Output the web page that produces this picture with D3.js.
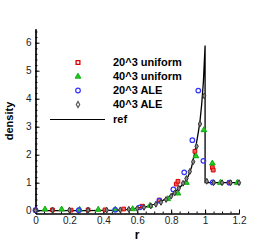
<!DOCTYPE html>
<html>
<head>
<meta charset="utf-8">
<script src="https://cdn.jsdelivr.net/npm/d3@7"></script>
<style>
  body { margin: 0; background: #fff; }
  text { font-family: "Liberation Sans", Arial, sans-serif; }
</style>
</head>
<body>
<svg width="273" height="242"></svg>
<script>
// reference curve (r, density)
var refR = [0, 0.3, 0.5, 0.55, 0.6, 0.65, 0.7, 0.75, 0.8, 0.85, 0.88, 0.9, 0.92, 0.94, 0.96, 0.97, 0.98, 0.99, 1.0, 1.0, 1.1, 1.2];
var refD = [0, 0.005, 0.02, 0.05, 0.09, 0.14, 0.23, 0.36, 0.55, 0.82, 1.03, 1.22, 1.55, 2.1, 2.8, 3.2, 3.8, 4.6, 5.9, 1.0, 1.0, 1.0];

// 20^3 uniform
var uni20R = [0.0, 0.1, 0.21, 0.31, 0.41, 0.52, 0.63, 0.73, 0.83, 0.84, 0.94, 1.043, 1.048, 1.145];
var uni20D = [0.02, 0.03, 0.02, 0.03, 0.03, 0.06, 0.16, 0.38, 0.95, 1.05, 2.12, 1.54, 1.45, 1.0];

// 40^3 uniform
var uni40R = [0.056, 0.154, 0.26, 0.37, 0.47, 0.573, 0.675, 0.78, 0.84, 0.89, 0.946, 0.993, 1.043, 1.09, 1.19];
var uni40D = [0.05, 0.05, 0.04, 0.04, 0.04, 0.06, 0.18, 0.42, 0.62, 1.0, 1.95, 2.88, 1.69, 1.0, 1.0];

// 20^3 ALE
var ale20R = [0.0, 0.255, 0.47, 0.616, 0.73, 0.813, 0.877, 0.925, 0.96, 0.99, 1.045, 1.143];
var ale20D = [0.02, 0.02, 0.03, 0.12, 0.36, 0.76, 1.37, 2.52, 4.29, 1.78, 1.01, 1.0];

// 40^3 ALE
var ale40R = [0.0, 0.1, 0.2, 0.31, 0.42, 0.5, 0.55, 0.6, 0.64, 0.68, 0.71, 0.74, 0.77, 0.8, 0.82, 0.845, 0.87, 0.89, 0.91, 0.93, 0.95, 0.97, 0.995, 1.01, 1.05, 1.1, 1.15, 1.2];
var ale40D = [0.01, 0.02, 0.02, 0.02, 0.02, 0.03, 0.05, 0.08, 0.12, 0.17, 0.23, 0.3, 0.4, 0.52, 0.63, 0.8, 0.98, 1.15, 1.4, 1.75, 2.3, 3.1, 4.1, 1.05, 1.0, 1.0, 1.0, 1.0];

var legendLabels = ["20^3 uniform", "40^3 uniform", "20^3 ALE", "40^3 ALE", "ref"];

var xTicks = [0, 0.2, 0.4, 0.6, 0.8, 1, 1.2];
var yTicks = [0, 1, 2, 3, 4, 5, 6];

var svg = d3.select("svg");

var x = d3.scaleLinear().domain([0, 1.2]).range([35.5, 239]);
var y = d3.scaleLinear().domain([-0.1, 6.5]).range([213.5, 28.7]);

function zip(a, b) { return a.map(function(v, i) { return [v, b[i]]; }); }

// axes
var xMinor = d3.range(0, 1.2001, 0.05);
var yMinor = d3.range(0, 6.5001, 0.2);

svg.append("g")
    .attr("transform", "translate(0," + y.range()[0] + ")")
    .call(d3.axisBottom(x).tickValues(xMinor).tickSize(-2).tickSizeOuter(0).tickFormat(""));
svg.append("g")
    .attr("transform", "translate(0," + y.range()[0] + ")")
    .call(d3.axisBottom(x).tickValues(xTicks).tickSize(-4).tickSizeOuter(0).tickPadding(3)
          .tickFormat(d3.format("")));

svg.append("g")
    .attr("transform", "translate(" + x.range()[0] + ",0)")
    .call(d3.axisLeft(y).tickValues(yMinor).tickSize(-2).tickSizeOuter(0).tickFormat(""));
svg.append("g")
    .attr("transform", "translate(" + x.range()[0] + ",0)")
    .call(d3.axisLeft(y).tickValues(yTicks).tickSize(-4).tickSizeOuter(0).tickPadding(4)
          .tickFormat(d3.format("d")));

svg.selectAll(".domain").attr("stroke", "#000").attr("stroke-width", 1.2);
svg.selectAll(".tick line").attr("stroke", "#000");
svg.selectAll(".tick text").attr("font-size", 10).attr("fill", "#222")
    .style("font-family", "'Liberation Sans', Arial, sans-serif");

// axis titles
svg.append("text")
    .attr("transform", "translate(13,121) rotate(-90)")
    .attr("text-anchor", "middle")
    .attr("font-size", 11).attr("font-weight", "bold")
    .text("density");
svg.append("text")
    .attr("x", 137).attr("y", 239)
    .attr("text-anchor", "middle")
    .attr("font-size", 12).attr("font-weight", "bold")
    .text("r");

// ref line
var line = d3.line().x(function(d) { return x(d[0]); }).y(function(d) { return y(d[1]); });
svg.append("path")
    .datum(zip(refR, refD))
    .attr("fill", "none")
    .attr("stroke", "#000")
    .attr("stroke-width", 1.3)
    .attr("d", line);

// markers
var sym = {
  square: d3.symbol().type(d3.symbolSquare).size(14),
  tri: d3.symbol().type(d3.symbolTriangle).size(14),
  diamond: d3.symbol().type(d3.symbolDiamond).size(10)
};

function drawSeries(rs, ds, kind) {
  var pts = zip(rs, ds);
  var g = svg.append("g");
  if (kind === "circle") {
    g.selectAll("circle").data(pts).enter().append("circle")
      .attr("cx", function(d) { return x(d[0]); })
      .attr("cy", function(d) { return y(d[1]); })
      .attr("r", 2.3)
      .attr("fill", "none").attr("stroke", "#3333ff").attr("stroke-width", 1.2);
  } else {
    g.selectAll("path").data(pts).enter().append("path")
      .attr("transform", function(d) { return "translate(" + x(d[0]) + "," + y(d[1]) + ")"; })
      .attr("d", sym[kind]())
      .attr("fill", kind === "square" ? "#f26060" : kind === "tri" ? "#22cc22" : "#888")
      .attr("stroke", kind === "square" ? "#dd0000" : kind === "tri" ? "#11aa11" : "#333")
      .attr("stroke-width", 1);
  }
}

drawSeries(uni20R, uni20D, "square");
drawSeries(uni40R, uni40D, "tri");
drawSeries(ale20R, ale20D, "circle");
drawSeries(ale40R, ale40D, "diamond");

// legend
var legY = [62.5, 76.5, 90.5, 104.5, 119.5];
var legend = svg.append("g");
legend.append("path").attr("transform", "translate(78," + legY[0] + ")")
  .attr("d", sym.square()).attr("fill", "#fff").attr("stroke", "#dd0000").attr("stroke-width", 1.3);
legend.append("path").attr("transform", "translate(78," + legY[1] + ")")
  .attr("d", sym.tri()).attr("fill", "#22cc22").attr("stroke", "#11aa11");
legend.append("circle").attr("cx", 78).attr("cy", legY[2]).attr("r", 2.3)
  .attr("fill", "none").attr("stroke", "#3333ff").attr("stroke-width", 1.2);
legend.append("path").attr("transform", "translate(78," + legY[3] + ")")
  .attr("d", sym.diamond()).attr("fill", "#fff").attr("stroke", "#555").attr("stroke-width", 1.2);
legend.append("line").attr("x1", 50).attr("x2", 105).attr("y1", legY[4]).attr("y2", legY[4])
  .attr("stroke", "#000").attr("stroke-width", 1.2);

legend.selectAll("text").data(legendLabels).enter().append("text")
  .attr("x", 113)
  .attr("y", function(d, i) { return legY[i]; })
  .attr("dy", "0.35em")
  .attr("font-size", 11).attr("font-weight", "bold")
  .text(function(d) { return d; });
</script>
</body>
</html>
